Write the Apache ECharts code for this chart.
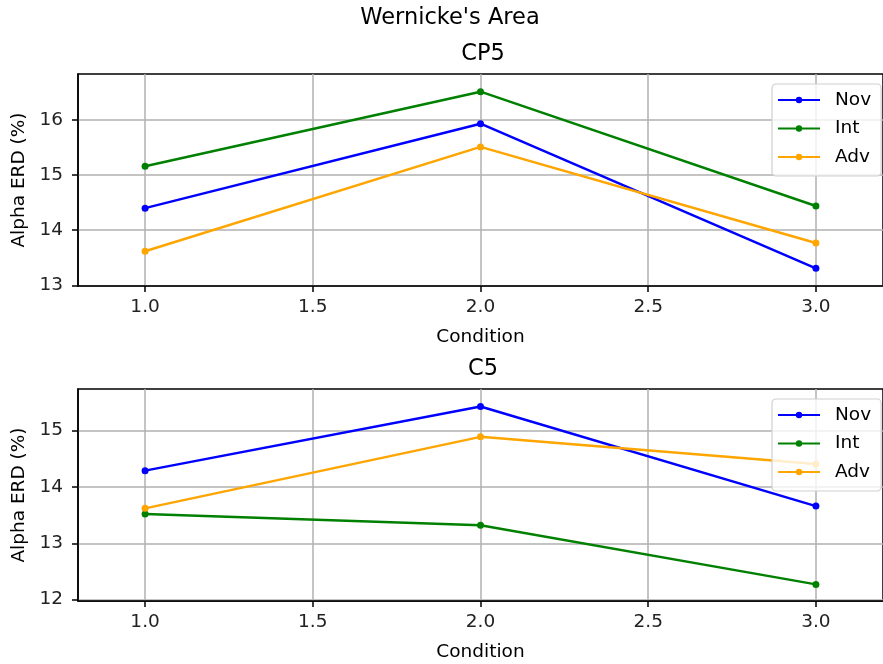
<!DOCTYPE html>
<html>
<head>
<meta charset="utf-8">
<script src="https://cdn.jsdelivr.net/npm/echarts@6/dist/echarts.min.js"></script>
<style>html,body{margin:0;padding:0;background:#fff}#c{width:883px;height:664px}</style>
</head>
<body>
<div id="c"></div>
<script>
const conditions = [1, 2, 3];
const seriesNames = ['Nov', 'Int', 'Adv'];
const nov_cp5 = [14.40, 15.93, 13.31];
const int_cp5 = [15.16, 16.51, 14.44];
const adv_cp5 = [13.62, 15.51, 13.77];
const nov_c5 = [14.29, 15.43, 13.66];
const int_c5 = [13.52, 13.32, 12.27];
const adv_c5 = [13.62, 14.89, 14.41];
const xTicks = [1.0, 1.5, 2.0, 2.5, 3.0];
const yTicksCP5 = [13, 14, 15, 16];
const yTicksC5 = [12, 13, 14, 15];

const colors = ['#0000ff', '#008000', '#ffa500'];
const FONT = 'DejaVu Sans';
const FS = 18.5;
const chart = echarts.init(document.getElementById('c'));

function xAxis(gi) {
  return {
    type: 'value', gridIndex: gi, min: 0.8, max: 3.2,
    name: 'Condition', nameLocation: 'middle', nameGap: 42,
    nameTextStyle: {fontFamily: FONT, fontSize: FS, color: '#000'},
    axisLine: {show: true, onZero: false, lineStyle: {color: '#000', width: 1.5}},
    axisTick: {show: true, length: 6, customValues: xTicks, lineStyle: {color: '#000', width: 1.5}},
    axisLabel: {customValues: xTicks, margin: 12, fontFamily: FONT, fontSize: FS, color: '#222',
      formatter: v => v.toFixed(1)},
    splitLine: {show: true, lineStyle: {color: '#b0b0b0', width: 1.5}}
  };
}
function yAxis(gi, mn, mx, ticks) {
  return {
    type: 'value', gridIndex: gi, min: mn, max: mx,
    name: 'Alpha ERD (%)', nameLocation: 'middle', nameGap: 49,
    nameTextStyle: {fontFamily: FONT, fontSize: FS, color: '#000'},
    axisLine: {show: true, onZero: false, lineStyle: {color: '#000', width: 1.5}},
    axisTick: {show: true, length: 6, customValues: ticks, lineStyle: {color: '#000', width: 1.5}},
    axisLabel: {customValues: ticks, margin: 15, fontFamily: FONT, fontSize: FS, color: '#222'},
    splitLine: {show: true, lineStyle: {color: '#b0b0b0', width: 1.5}}
  };
}
function ser(name, vals, idx, gi) {
  return {
    type: 'line', name: name, xAxisIndex: gi, yAxisIndex: gi,
    data: conditions.map((c, i) => [c, vals[i]]),
    color: colors[idx], symbol: 'circle', symbolSize: 7, showSymbol: true,
    lineStyle: {width: 2.5, color: colors[idx]}, itemStyle: {color: colors[idx]},
    emphasis: {disabled: true}, animation: false
  };
}
function legend(top) {
  return {
    data: seriesNames, orient: 'vertical', left: 772, top: top,
    itemWidth: 42, itemHeight: 8, itemGap: 8.5,
    padding: [6, 10, 9, 5],
    backgroundColor: 'rgba(255,255,255,0.8)', borderColor: '#d0d0d0', borderWidth: 1.2, borderRadius: 4,
    textStyle: {fontFamily: FONT, fontSize: FS, lineHeight: 20, color: '#000', padding: [0, 0, 0, 10]},
    selectedMode: false
  };
}

chart.setOption({
  animation: false,
  backgroundColor: '#fff',
  graphic: [
    {type: 'text', x: 450, y: 18, style: {text: "Wernicke's Area", font: '22.5px "DejaVu Sans"', fill: '#000', textAlign: 'center', textVerticalAlign: 'middle'}},
    {type: 'text', x: 483, y: 54, style: {text: 'CP5', font: '22.5px "DejaVu Sans"', fill: '#000', textAlign: 'center', textVerticalAlign: 'middle'}},
    {type: 'text', x: 483, y: 369, style: {text: 'C5', font: '22.5px "DejaVu Sans"', fill: '#000', textAlign: 'center', textVerticalAlign: 'middle'}}
  ],
  grid: [
    {left: 78, right: -6, top: 74, height: 212, show: true, borderColor: '#000', borderWidth: 1.5, backgroundColor: 'transparent'},
    {left: 78, right: -6, top: 389, height: 212, show: true, borderColor: '#000', borderWidth: 1.5, backgroundColor: 'transparent'}
  ],
  xAxis: [xAxis(0), xAxis(1)],
  yAxis: [yAxis(0, 12.99, 16.83, yTicksCP5), yAxis(1, 11.975, 15.74, yTicksC5)],
  legend: [legend(84), legend(399)],
  series: [
    ser('Nov', nov_cp5, 0, 0), ser('Int', int_cp5, 1, 0), ser('Adv', adv_cp5, 2, 0),
    ser('Nov', nov_c5, 0, 1), ser('Int', int_c5, 1, 1), ser('Adv', adv_c5, 2, 1)
  ]
});
</script>
</body>
</html>
